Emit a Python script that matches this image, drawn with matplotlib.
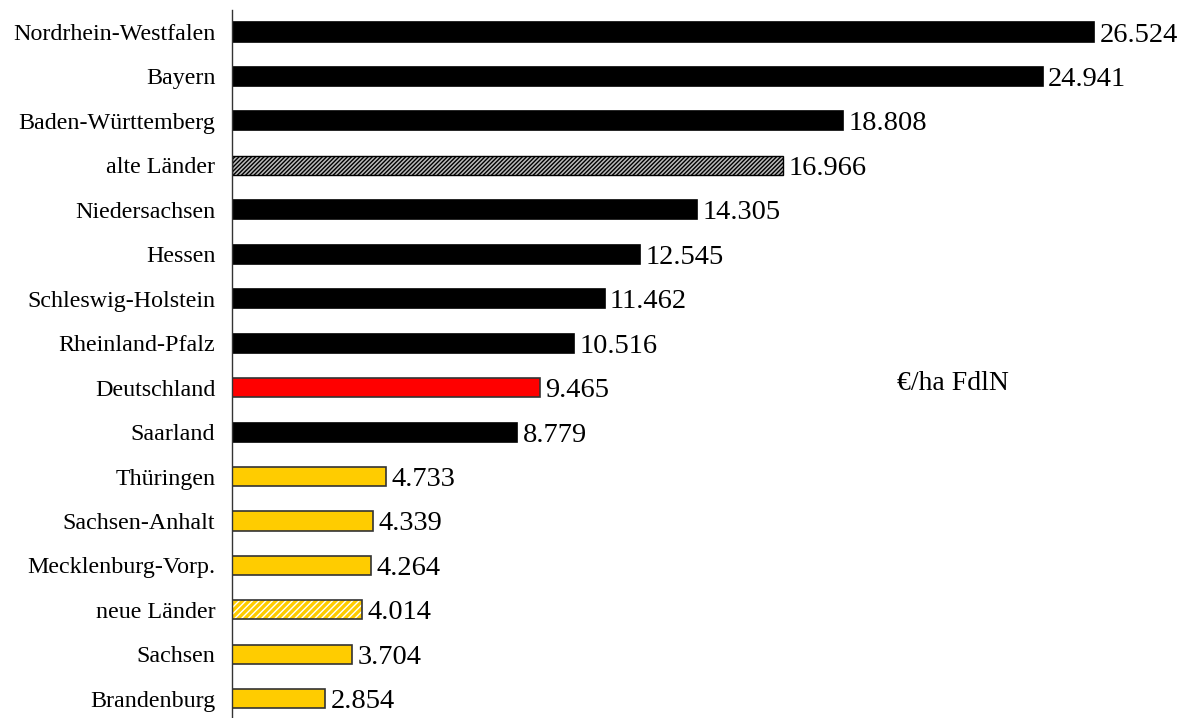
import matplotlib
matplotlib.use("Agg")
import matplotlib.pyplot as plt
import numpy as np

plt.rcParams['hatch.linewidth'] = 1.0

categories = ["Nordrhein-Westfalen", "Bayern", "Baden-Württemberg", "alte Länder",
              "Niedersachsen", "Hessen", "Schleswig-Holstein", "Rheinland-Pfalz",
              "Deutschland", "Saarland", "Thüringen", "Sachsen-Anhalt",
              "Mecklenburg-Vorp.", "neue Länder", "Sachsen", "Brandenburg"]
values = [26.524, 24.941, 18.808, 16.966, 14.305, 12.545, 11.462, 10.516,
          9.465, 8.779, 4.733, 4.339, 4.264, 4.014, 3.704, 2.854]
value_labels = ["26.524", "24.941", "18.808", "16.966", "14.305", "12.545", "11.462",
                "10.516", "9.465", "8.779", "4.733", "4.339", "4.264", "4.014",
                "3.704", "2.854"]
groups = ["west", "west", "west", "west_avg", "west", "west", "west", "west",
          "de", "west", "east", "east", "east", "east_avg", "east", "east"]
unit_label = "€/ha FdlN"

styles = {
    "west": dict(facecolor="black", edgecolor="black", hatch=None),
    "west_avg": dict(facecolor="#d0d0d0", edgecolor="black", hatch="////////"),
    "de": dict(facecolor="#ff0000", edgecolor="#333333", hatch=None),
    "east": dict(facecolor="#ffcc00", edgecolor="#333333", hatch=None),
    "east_avg": dict(facecolor="#ffcc00", edgecolor="white", hatch="/////"),
}

fig = plt.figure(figsize=(11.82, 7.18), dpi=100)
ax = fig.add_axes([232/1182, -3/718, 1 - 232/1182, (718 - 9.8 + 3)/718])

y = np.arange(len(categories))
for yi, v, g, lab in zip(y, values, groups, value_labels):
    st = styles[g]
    if g == "east_avg":
        ax.barh(yi, v, height=0.43, color=st["facecolor"], edgecolor="white",
                hatch=st["hatch"], linewidth=0)
        ax.barh(yi, v, height=0.43, fill=False, edgecolor="#333333", linewidth=1.2)
    elif g == "west_avg":
        ax.barh(yi, v, height=0.43, color="#bbbbbb", edgecolor="black",
                hatch=st["hatch"], linewidth=1.0)
    else:
        ax.barh(yi, v, height=0.43, color=st["facecolor"], edgecolor=st["edgecolor"],
                linewidth=1.2)
    ax.text(v + 0.17, yi, lab, va="center_baseline", ha="left", fontsize=20.5,
            family="Liberation Serif", color="black")

ax.set_ylim(len(categories) - 0.5, -0.5)
ax.set_xlim(0, 950/32.5)
ax.set_yticks(y)
ax.set_yticklabels(categories, fontsize=17.3, family="Liberation Serif")
ax.tick_params(axis="y", length=0, pad=12)
ax.set_xticks([])
for s in ["top", "right", "bottom"]:
    ax.spines[s].set_visible(False)
ax.spines["left"].set_linewidth(1.0)
ax.spines["left"].set_color("#333333")

ax.text(953/1182, 1 - 383/718, unit_label, transform=fig.transFigure, ha="center",
        va="center", fontsize=20, family="Liberation Serif")

fig.savefig("out.png", dpi=100)
